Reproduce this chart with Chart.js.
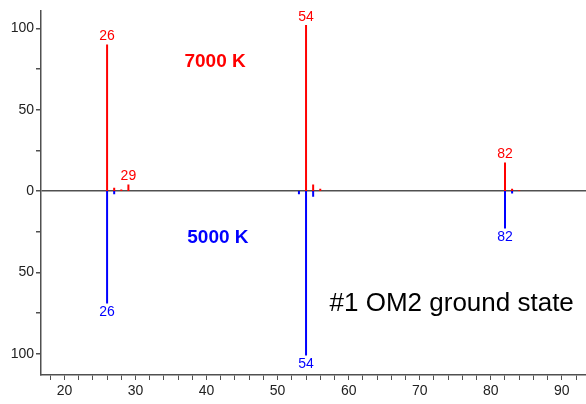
<!DOCTYPE html>
<html>
<head>
<meta charset="utf-8">
<script src="https://cdn.jsdelivr.net/npm/chart.js@4"></script>
<style>
  html, body { margin: 0; padding: 0; background: #fff; }
  #wrap { width: 586px; height: 404px; }
</style>
</head>
<body>
<div id="wrap"><canvas id="spectrum"></canvas></div>
<script>
// m/z positions and relative intensities
const masses   = [26, 27, 28, 29, 53, 54, 55, 56, 82, 83, 84];
const hot7000  = [90, 2, 1, 4, 0, 102, 4, 1.5, 17.5, 1.5, 0.5];
const cold5000 = [69, 2, 0, 0, 2, 101, 3.5, 0, 23, 1.5, 0];

// peaks that carry a mass label
const hotLabels  = [26, 29, 54, 82];
const coldLabels = [26, 54, 82];

// turn each peak into a vertical stick: (m,0) -> (m,h), then a gap
function sticks(values, sign) {
    const pts = [];
    masses.forEach((m, i) => {
        if (!values[i]) return;
        pts.push({ x: m, y: 0 });
        pts.push({ x: m, y: sign * values[i] });
        pts.push({ x: m, y: null });
    });
    return pts;
}

const FONT = '"Liberation Sans", Arial, sans-serif';

const textPlugin = {
    id: 'peakText',
    afterDatasetsDraw(chart) {
        const { ctx, scales: { x, y } } = chart;
        ctx.save();
        ctx.textAlign = 'center';
        ctx.font = '14px ' + FONT;

        ctx.fillStyle = '#ff0000';
        ctx.textBaseline = 'bottom';
        hotLabels.forEach(m => {
            const v = hot7000[masses.indexOf(m)];
            ctx.fillText(String(m), x.getPixelForValue(m), y.getPixelForValue(v) - 1);
        });

        ctx.fillStyle = '#0000ff';
        ctx.textBaseline = 'top';
        coldLabels.forEach(m => {
            const v = cold5000[masses.indexOf(m)];
            ctx.fillText(String(m), x.getPixelForValue(m), y.getPixelForValue(-v) + 2);
        });

        ctx.textBaseline = 'middle';
        ctx.font = 'bold 19px ' + FONT;
        ctx.fillStyle = '#ff0000';
        ctx.fillText('7000 K', x.getPixelForValue(41.2), y.getPixelForValue(79.6));
        ctx.fillStyle = '#0000ff';
        ctx.fillText('5000 K', x.getPixelForValue(41.6), y.getPixelForValue(-28.7));

        ctx.font = '26px ' + FONT;
        ctx.fillStyle = '#000';
        ctx.fillText('#1 OM2 ground state', x.getPixelForValue(74.5), y.getPixelForValue(-69));
        ctx.restore();
    }
};

const ctx = document.getElementById('spectrum').getContext('2d');
const spectrum = new Chart(ctx, {
    type: 'line',
    data: {
        datasets: [{
            label: '7000 K',
            data: sticks(hot7000, 1),
            borderColor: '#ff0000',
            borderWidth: 2,
            pointRadius: 0,
            spanGaps: false
        }, {
            label: '5000 K',
            data: sticks(cold5000, -1),
            borderColor: '#0000ff',
            borderWidth: 2,
            pointRadius: 0,
            spanGaps: false
        }]
    },
    options: {
        responsive: true,
        maintainAspectRatio: false,
        animation: false,
        layout: { padding: { top: 7, right: 0, left: 0, bottom: 0 } },
        plugins: {
            legend: { display: false },
            tooltip: { enabled: false }
        },
        scales: {
            x: {
                type: 'linear',
                min: 16.7,
                max: 93.4,
                afterFit: s => { s.height = 29; },
                border: { color: '#505050', width: 1.5 },
                grid: { drawOnChartArea: false, tickLength: 5, tickColor: '#505050' },
                ticks: {
                    stepSize: 2,
                    includeBounds: false,
                    autoSkip: false,
                    maxRotation: 0,
                    padding: 3,
                    color: '#222',
                    font: { family: FONT, size: 14 },
                    callback: v => (v % 10 === 0 ? String(v) : '')
                }
            },
            y: {
                min: -113,
                max: 111,
                afterFit: s => { s.width = 41; },
                border: { color: '#505050', width: 1.5 },
                grid: {
                    color: c => (c.tick && c.tick.value === 0 ? '#505050' : 'transparent'),
                    lineWidth: 1.5,
                    tickLength: 5,
                    tickColor: '#505050'
                },
                ticks: {
                    stepSize: 25,
                    includeBounds: false,
                    autoSkip: false,
                    padding: 2,
                    color: '#222',
                    font: { family: FONT, size: 14 },
                    callback: v => (v % 50 === 0 ? String(Math.abs(v)) : '')
                }
            }
        }
    },
    plugins: [textPlugin]
});
</script>
</body>
</html>
